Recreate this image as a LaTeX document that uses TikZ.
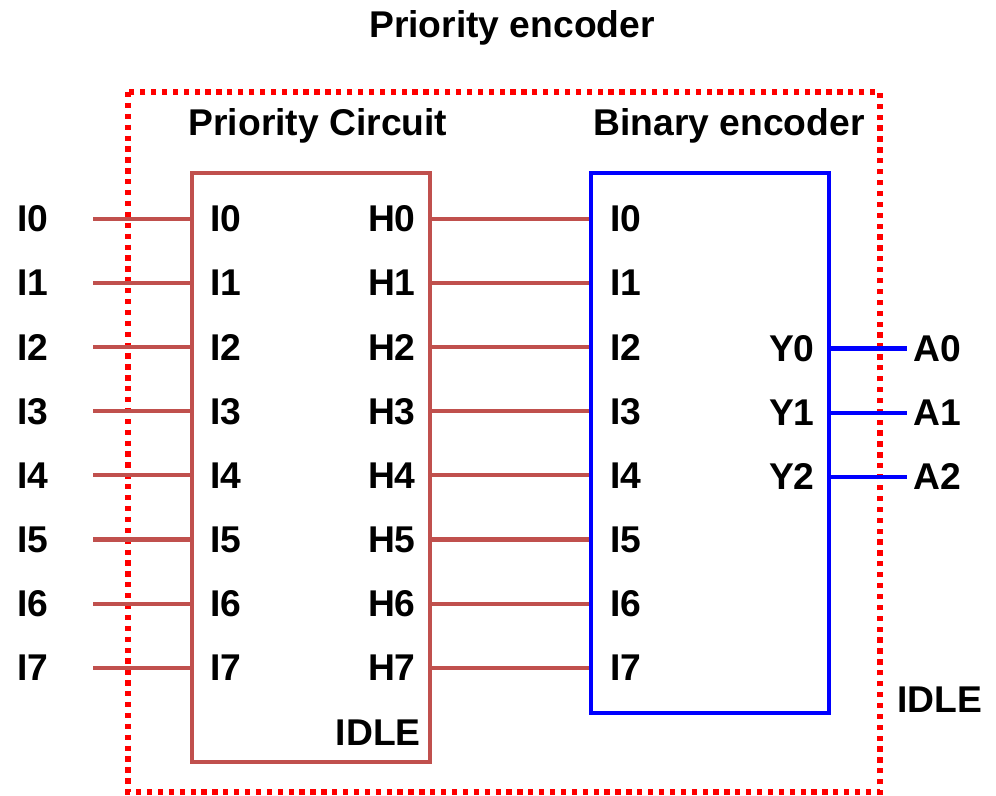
\documentclass[tikz,border=0pt]{standalone}
\usepackage{fontspec}
\setmainfont{Liberation Sans}
\definecolor{prioline}{HTML}{C0504D}

\tikzset{
  pcbox/.style={draw=prioline,line width=2pt,minimum width=4.76cm,minimum height=11.78cm,inner sep=0pt},
  bebox/.style={draw=blue,line width=2pt,minimum width=4.76cm,minimum height=10.8cm,inner sep=0pt},
  pin/.style={inner sep=0pt},
  wire/.style={prioline,line width=2.3pt},
  bwire/.style={blue,line width=2.3pt},
}

\begin{document}
\begin{tikzpicture}[x=0.02cm,y=-0.02cm,font=\bfseries\fontsize{21.2}{25}\selectfont]
  \useasboundingbox (0,0) rectangle (996,795);
  % outer border
  \draw[red,line width=3pt,dash pattern=on 3pt off 3.2pt] (128,92) rectangle (880,792);
  \node (title) at (512,28) {Priority encoder};
  \node (pctitle) at (318,126) {Priority Circuit};
  \node (betitle) at (729,126) {Binary encoder};

  \node[pcbox] (pc) at (311,467.5) {};
  \node[bebox] (be) at (710,443) {};

  \foreach \i in {0,...,7} {
    \coordinate (s\i) at (93,{219+64.1*\i});
    \node[pin,anchor=west] (li\i) at (17,{219+64.1*\i}) {I\i};
    \node[pin,anchor=west] (pi\i) at (210,{219+64.1*\i}) {I\i};
    \node[pin,anchor=east] (ph\i) at (416,{219+64.1*\i}) {H\i};
    \node[pin,anchor=west] (bi\i) at (610,{219+64.1*\i}) {I\i};
    \draw[wire] (s\i) -- (pc.west |- s\i);
    \draw[wire] (pc.east |- s\i) -- (be.west |- s\i);
  }

  \foreach \j in {0,1,2} {
    \coordinate (t\j) at (907,{348.5+64.1*\j});
    \node[pin,anchor=east] (by\j) at (815,{348.5+64.1*\j}) {Y\j};
    \node[pin,anchor=west] (ao\j) at (913,{348.5+64.1*\j}) {A\j};
    \draw[bwire] (be.east |- t\j) -- (t\j);
  }

  \node[pin,anchor=east] (pcidle) at (421,733) {IDLE};
  \node[pin] (idle) at (940,700) {IDLE};
\end{tikzpicture}
\end{document}
